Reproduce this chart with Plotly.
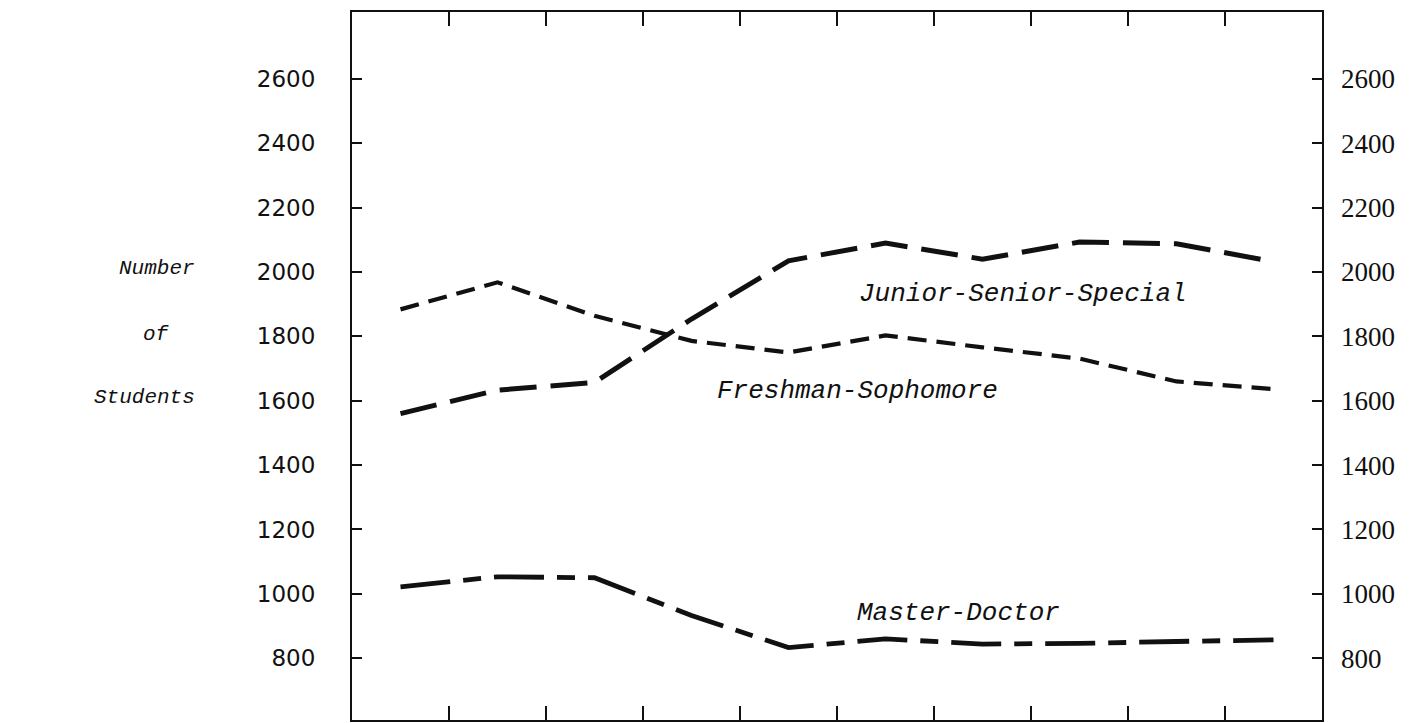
import plotly.graph_objects as go

# ---- data ----
periods = list(range(10))
freshman_sophomore = [1884, 1968, 1864, 1786, 1750, 1803, 1766, 1731, 1660, 1636]
junior_senior_special = [1560, 1633, 1657, 1854, 2035, 2090, 2040, 2093, 2088, 2032]
master_doctor = [1022, 1053, 1050, 933, 833, 860, 844, 846, 852, 857]
y_ticks = [800, 1000, 1200, 1400, 1600, 1800, 2000, 2200, 2400, 2600]
y_tick_labels = [str(v) for v in y_ticks]
x_boundaries = [0.5, 1.5, 2.5, 3.5, 4.5, 5.5, 6.5, 7.5, 8.5]

series_labels = {
    "Junior-Senior-Special": (6.42, 1931),
    "Freshman-Sophomore": (4.71, 1630),
    "Master-Doctor": (5.75, 940),
}
axis_title_lines = ["Number", "of", "Students"]

INK = "#111111"
Y_RANGE = [608, 2808]

# page body has an 8px margin: figure drawn 8px right/down
W, H = 1405, 715
L, R, T, B = 344, 91, 2, 3
PW, PH = W - L - R, H - T - B

fig = go.Figure()
fig.add_trace(go.Scatter(x=periods, y=freshman_sophomore, mode="lines",
                         line=dict(color=INK, width=4.2, dash="19px,10px"),
                         name="Freshman-Sophomore", showlegend=False))
fig.add_trace(go.Scatter(x=periods, y=junior_senior_special, mode="lines",
                         line=dict(color=INK, width=5, dash="37px,14px"),
                         name="Junior-Senior-Special", showlegend=False))
fig.add_trace(go.Scatter(x=periods, y=master_doctor, mode="lines", yaxis="y2",
                         line=dict(color=INK, width=4.8, dash="50px,13px,18px,13px"),
                         name="Master-Doctor", showlegend=False))

label_font = dict(family="Liberation Mono", size=26, color=INK, style="italic")
for text, (xx, yy) in series_labels.items():
    fig.add_annotation(x=xx, y=yy, text=text, showarrow=False, font=label_font,
                       xanchor="center", yanchor="middle")

side_font = dict(family="Liberation Mono", size=21, color=INK, style="italic")
# screen positions (right edge x, centre y) of the left-hand title lines
for text, px, py in zip(axis_title_lines, [197, 172, 197], [267, 333, 397]):
    fx, fy = px - 8, py - 8
    fig.add_annotation(xref="paper", yref="paper",
                       x=(fx - L) / PW, y=(H - B - fy) / PH,
                       text=text, showarrow=False, font=side_font,
                       xanchor="right", yanchor="middle")

fig.update_layout(
    width=W, height=H,
    margin=dict(l=L, r=R, t=T, b=B),
    paper_bgcolor="white", plot_bgcolor="white",
    xaxis=dict(range=[-0.5, 9.5], tickvals=x_boundaries, ticktext=[""] * len(x_boundaries),
               ticks="inside", ticklen=14, tickwidth=2, tickcolor=INK,
               showline=True, linecolor=INK, linewidth=2, mirror="ticks",
               showgrid=False, zeroline=False),
    yaxis=dict(range=Y_RANGE, tickvals=y_ticks, ticktext=y_tick_labels,
               ticks="inside", ticklen=10, tickwidth=1.5, tickcolor=INK,
               showline=True, linecolor=INK, linewidth=2, mirror=True,
               ticklabelstandoff=30,
               tickfont=dict(family="DejaVu Sans", size=23, color=INK),
               showgrid=False, zeroline=False),
    yaxis2=dict(range=Y_RANGE, tickvals=y_ticks, ticktext=y_tick_labels,
                overlaying="y", side="right",
                ticks="inside", ticklen=10, tickwidth=1.5, tickcolor=INK,
                showline=False, ticklabelstandoff=18,
                tickfont=dict(family="Liberation Serif", size=27, color=INK),
                showgrid=False, zeroline=False),
)

fig.write_html("out.html")
